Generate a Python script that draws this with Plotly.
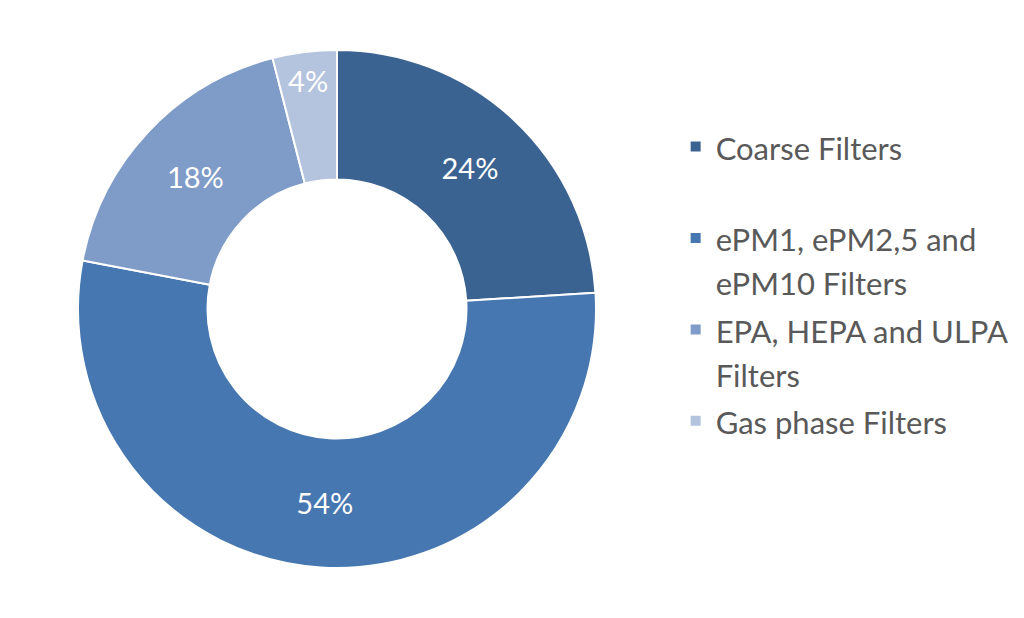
import plotly.graph_objects as go

# slice data
labels = ["Coarse Filters", "ePM1, ePM2,5 and<br>ePM10 Filters",
          "EPA, HEPA and ULPA<br>Filters", "Gas phase Filters"]
values = [24, 54, 18, 4]
colors = ["#3B6392", "#4677B0", "#7F9BC7", "#B4C3DE"]

# legend text: glyphs a bit smaller than the line spacing font
span = "<span style='font-size:31px'>"
legend_labels = [span + l.replace("<br>", "</span><br>" + span) + "</span>" for l in labels]
legend_labels[0] += "<br> "

fig = go.Figure(data=[go.Pie(
    labels=legend_labels,
    values=values,
    hole=0.5,
    sort=False,
    direction="clockwise",
    rotation=0,
    marker=dict(colors=colors, line=dict(color="white", width=2)),
    texttemplate="%{percent:.0%}",
    textposition="inside",
    insidetextorientation="horizontal",
    textfont=dict(color="white", size=29, family="Lato"),
    # page body has an 8px margin, so the pie is placed 8px up/left
    domain=dict(x=[70/1024, 588/1024], y=[1 - 560/618, 1 - 42/618]),
)])

fig.update_layout(
    width=1024, height=618,
    margin=dict(l=0, r=0, t=0, b=0),
    paper_bgcolor="white",
    font=dict(family="Lato", color="#595959"),
    legend=dict(x=0.652, y=0.822, xanchor="left", yanchor="top",
                valign="top", font=dict(size=34, color="#595959", family="Lato"),
                tracegroupgap=0),
    showlegend=True,
)

fig.write_html("out.html")
